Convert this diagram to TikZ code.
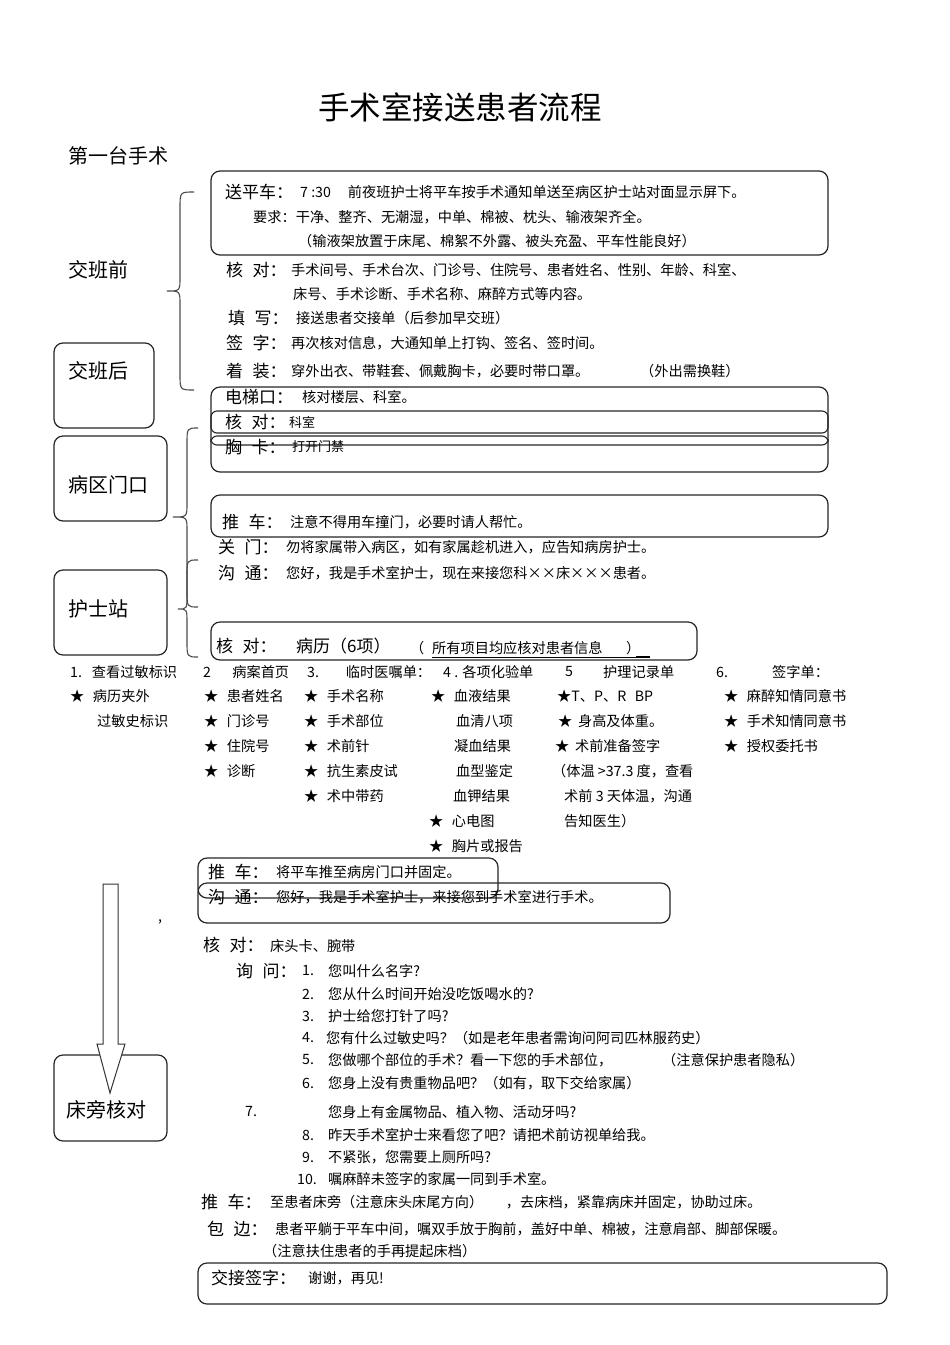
\documentclass[tikz,border=0pt]{standalone}
\usepackage{fontspec}
\setmainfont{Noto Sans CJK SC}
\tikzset{
  lab/.style={anchor=west, inner sep=0, font=\fontsize{17}{17}\selectfont},
  txt/.style={anchor=west, inner sep=0, font=\fontsize{14.2}{14.2}\selectfont},
  sml/.style={anchor=west, inner sep=0, font=\fontsize{13}{13}\selectfont},
  big/.style={anchor=west, inner sep=0, font=\fontsize{20}{20}\selectfont},
  rbox/.style={draw=black!85, rounded corners=9pt, line width=1.2pt},
  thinbox/.style={draw=black!85, rounded corners=6pt, line width=1.1pt},
  curly/.style={draw=black!70, line width=1.1pt}
}
\newcommand{\gapsp}{\hspace{0.55em}}
% \mybrace{xr}{xc}{xl}{ytop}{ymid}{ybot}
\newcommand{\mybrace}[6]{%
  \draw[curly] (#1,#4) .. controls (#2,#4) .. (#2,#4+16)
    -- (#2,#5-14) .. controls (#2,#5) .. (#3,#5)
    .. controls (#2,#5) .. (#2,#5+14)
    -- (#2,#6-16) .. controls (#2,#6) .. (#1,#6);}
\begin{document}
\begin{tikzpicture}[x=1pt,y=-1pt]
\useasboundingbox[fill=white] (0,0) rectangle (950,1345);

% title
\node[inner sep=0, font=\fontsize{31.5}{31.5}\selectfont] (title) at (460,107) {手术室接送患者流程};
\node[big] (first) at (68,156) {第一台手术};

% left labels and boxes
\node[big] (jbq) at (68,270) {交班前};
\draw[rbox] (54,343) rectangle (154,428);
\node[big] (jbh) at (68,371) {交班后};
\draw[rbox] (54,436) rectangle (167,521);
\node[big] (bqmk) at (68,485) {病区门口};
\draw[rbox] (54,570) rectangle (167,655);
\node[big] (hsz) at (68,609) {护士站};
\draw[rbox] (54,1055) rectangle (167,1141);

% braces
\mybrace{194}{180}{167}{192}{291}{390}
\mybrace{198}{187}{173}{428}{517}{607}
\mybrace{198}{187}{178}{560}{609}{657}

% box 1
\draw[rbox] (211,171) rectangle (828,255);
\node[lab] (l1) at (225,192) {送平车：};
\node[txt] (t1) at (300,192) {7 :30\hspace{1.2em}前夜班护士将平车按手术通知单送至病区护士站对面显示屏下。};
\node[txt] (t2) at (253,217) {要求：干净、整齐、无潮湿，中单、棉被、枕头、输液架齐全。};
\node[txt] (t3) at (298,241) {（输液架放置于床尾、棉絮不外露、被头充盈、平车性能良好）};

\node[lab] (l2) at (226,270) {核\gapsp 对：};
\node[txt] (t4) at (291,270) {手术间号、手术台次、门诊号、住院号、患者姓名、性别、年龄、科室、};
\node[txt] (t5) at (293,294) {床号、手术诊断、手术名称、麻醉方式等内容。};
\node[lab] (l3) at (228,318) {填\gapsp 写：};
\node[txt] (t6) at (296,318) {接送患者交接单（后参加早交班）};
\node[lab] (l4) at (226,343) {签\gapsp 字：};
\node[txt] (t7) at (291,343) {再次核对信息，大通知单上打钩、签名、签时间。};
\node[lab] (l5) at (226,371) {着\gapsp 装：};
\node[txt] (t8) at (291,371) {穿外出衣、带鞋套、佩戴胸卡，必要时带口罩。};
\node[txt] (t9) at (640,371) {（外出需换鞋）};

% elevator box
\draw[rbox] (211,387) rectangle (828,472);
\draw[thinbox] (211,411) rectangle (828,433);
\draw[thinbox] (211,436) rectangle (828,445);
\node[lab] (l6) at (225,397) {电梯口：};
\node[txt] (t10) at (302,397) {核对楼层、科室。};
\node[lab] (l7) at (225,422) {核\gapsp 对：};
\node[sml] (t11) at (289,422) {科室};
\node[lab] (l8) at (225,447) {胸\gapsp 卡：};
\node[sml] (t12) at (292,447) {打开门禁};

% push box
\draw[rbox] (211,495) rectangle (828,537);
\node[lab] (l9) at (222,522) {推\gapsp 车：};
\node[txt] (t13) at (290,522) {注意不得用车撞门，必要时请人帮忙。};
\node[lab] (l10) at (218,547) {关\gapsp 门：};
\node[txt] (t14) at (286,547) {勿将家属带入病区，如有家属趁机进入，应告知病房护士。};
\node[lab] (l11) at (218,573) {沟\gapsp 通：};
\node[txt] (t15) at (286,573) {您好，我是手术室护士，现在来接您科××床×××患者。};

% record box
\draw[rbox] (211,622) rectangle (697,660);
\node[lab] (l12) at (216,646) {核\gapsp 对：};
\node[lab] (t16) at (296,646) {病历（6项）};
\node[txt] (t17a) at (410,648) {（};
\node[txt] (t17) at (432,648) {所有项目均应核对患者信息};
\node[txt] (t17b) at (626,648) {）};
\draw[line width=0.9pt] (432,657) -- (648,657);
\draw[line width=1.6pt] (636,657) -- (650,657);

% items table
\begin{scope}[every node/.style={txt}]
\node (a1) at (70,672) {1.\hspace{0.7em}查看过敏标识};
\node (a2) at (203,672) {2\hspace{1.5em}病案首页};
\node (a3) at (307,672) {3.\hspace{1.9em}临时医嘱单：};
\node (a4) at (443,672) {4 . 各项化验单};
\node (a5) at (565,672) {5};
\node (a5b) at (603,672) {护理记录单};
\node (a6) at (716,672) {6.};
\node (a6b) at (772,672) {签字单：};

\node (b1) at (70,696) {★\hspace{0.6em}病历夹外};
\node (b1b) at (97,721) {过敏史标识};
\node (b2) at (204,696) {★\hspace{0.6em}患者姓名};
\node (b3) at (204,721) {★\hspace{0.6em}门诊号};
\node (b4) at (204,746) {★\hspace{0.6em}住院号};
\node (b5) at (204,771) {★\hspace{0.6em}诊断};
\node (c1) at (304,696) {★\hspace{0.6em}手术名称};
\node (c2) at (304,721) {★\hspace{0.6em}手术部位};
\node (c3) at (304,746) {★\hspace{0.6em}术前针};
\node (c4) at (304,771) {★\hspace{0.6em}抗生素皮试};
\node (c5) at (304,796) {★\hspace{0.6em}术中带药};
\node (d1) at (431,696) {★\hspace{0.6em}血液结果};
\node (d2) at (456,721) {血清八项};
\node (d3) at (454,746) {凝血结果};
\node (d4) at (456,771) {血型鉴定};
\node (d5) at (453,796) {血钾结果};
\node (d6) at (429,821) {★\hspace{0.6em}心电图};
\node (d7) at (429,846) {★\hspace{0.6em}胸片或报告};
\node (e1) at (557,696) {★T、P、R\hspace{0.6em}BP};
\node (e2) at (558,721) {★\hspace{0.4em}身高及体重。};
\node (e3) at (555,746) {★\hspace{0.4em}术前准备签字};
\node (e4) at (552,771) {（体温 >37.3 度，查看};
\node (e5) at (564,796) {术前 3 天体温，沟通};
\node (e6) at (564,821) {告知医生）};
\node (f1) at (724,696) {★\hspace{0.6em}麻醉知情同意书};
\node (f2) at (724,721) {★\hspace{0.6em}手术知情同意书};
\node (f3) at (724,746) {★\hspace{0.6em}授权委托书};
\end{scope}

% bedside boxes
\draw[rbox] (198,858) rectangle (498,898);
\draw[rbox] (198,883) rectangle (670,923);
\node[lab] (l13) at (208,872) {推\gapsp 车：};
\node[txt] (t18) at (276,872) {将平车推至病房门口并固定。};
\node[lab] (l14) at (208,897) {沟\gapsp 通：};
\node[txt] (t19) at (276,897) {您好，我是手术室护士，来接您到手术室进行手术。};

% block arrow
\draw[line width=1pt, draw=black!80, fill=white] (103,884) -- (118,884) -- (118,1044) -- (125,1044) -- (110,1093) -- (97,1044) -- (103,1044) -- cycle;
\node[big] (cpdh) at (66,1110) {床旁核对};
\node[txt] (comma) at (158,922) {,};

\node[lab] (l15) at (203,945) {核\gapsp 对：};
\node[txt] (t20) at (270,946) {床头卡、腕带};
\node[lab] (l16) at (236,971) {询\gapsp 问：};
\begin{scope}[every node/.style={txt}]
\node (q1n) at (302,971) {1.};
\node (q1) at (328,971) {您叫什么名字?};
\node (q2n) at (302,994) {2.};
\node (q2) at (328,994) {您从什么时间开始没吃饭喝水的?};
\node (q3n) at (302,1016) {3.};
\node (q3) at (328,1016) {护士给您打针了吗?};
\node (q4n) at (302,1038) {4.};
\node (q4) at (326,1038) {您有什么过敏史吗？（如是老年患者需询问阿司匹林服药史）};
\node (q5n) at (302,1060) {5.};
\node (q5) at (328,1060) {您做哪个部位的手术？看一下您的手术部位，};
\node (q5b) at (662,1060) {（注意保护患者隐私）};
\node (q6n) at (302,1083) {6.};
\node (q6) at (328,1083) {您身上没有贵重物品吧？（如有，取下交给家属）};
\node (q7n) at (245,1112) {7.};
\node (q7) at (328,1112) {您身上有金属物品、植入物、活动牙吗?};
\node (q8n) at (302,1135) {8.};
\node (q8) at (328,1135) {昨天手术室护士来看您了吧？请把术前访视单给我。};
\node (q9n) at (302,1157) {9.};
\node (q9) at (328,1157) {不紧张，您需要上厕所吗?};
\node (q10n) at (297,1179) {10.};
\node (q10) at (328,1179) {嘱麻醉未签字的家属一同到手术室。};
\end{scope}

\node[lab] (l17) at (201,1202) {推\gapsp 车：};
\node[txt] (t21) at (270,1202) {至患者床旁（注意床头床尾方向）\hspace{1.6em}，去床档，紧靠病床并固定，协助过床。};
\node[lab] (l18) at (207,1229) {包\gapsp 边：};
\node[txt] (t22) at (275,1229) {患者平躺于平车中间，嘱双手放于胸前，盖好中单、棉被，注意肩部、脚部保暖。};
\node[txt] (t23) at (263,1251) {（注意扶住患者的手再提起床档）};

\draw[rbox] (198,1263) rectangle (887,1304);
\node[lab] (l19) at (211,1278) {交接签字：};
\node[txt] (t24) at (308,1278) {谢谢，再见!};
\end{tikzpicture}
\end{document}
